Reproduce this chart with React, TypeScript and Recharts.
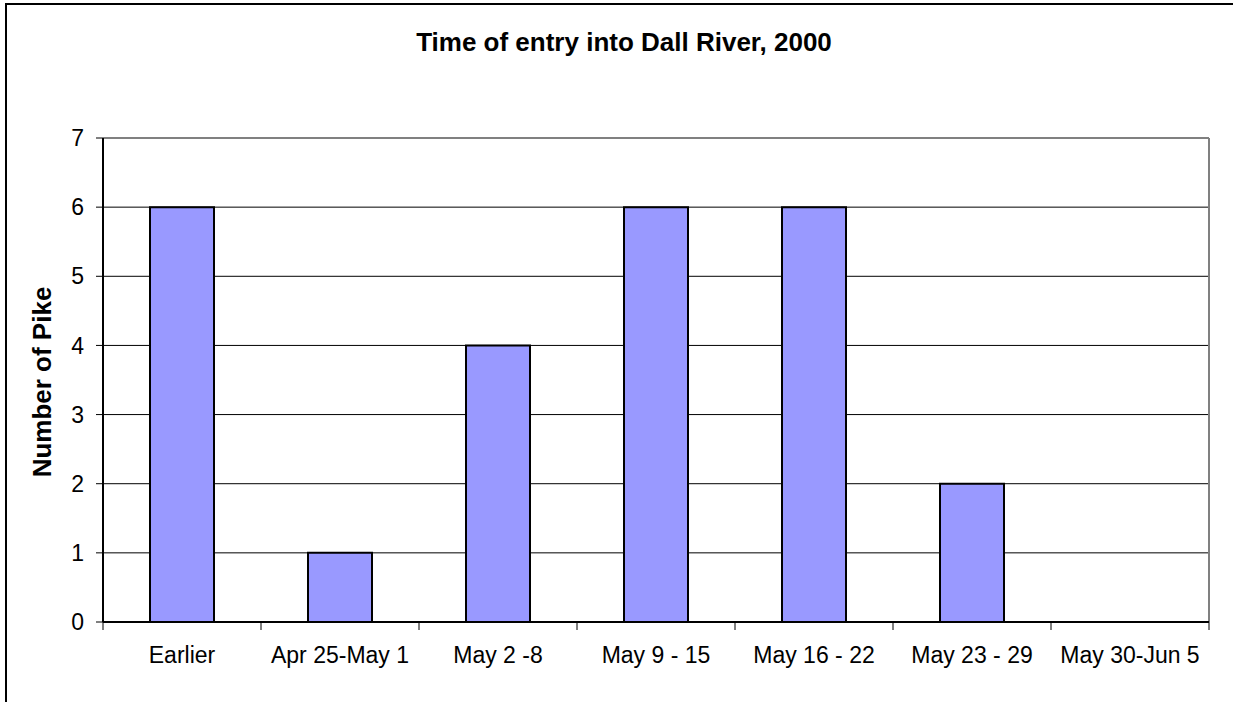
import { BarChart, Bar, XAxis, YAxis, CartesianGrid } from 'recharts';

const categories = [
  'Earlier',
  'Apr 25-May 1',
  'May 2 -8',
  'May 9 - 15',
  'May 16 - 22',
  'May 23 - 29',
  'May 30-Jun 5',
];
const pikeCounts = [6, 1, 4, 6, 6, 2, 0];
const yTicks = [0, 1, 2, 3, 4, 5, 6, 7];

const data = categories.map((week, i) => ({ week, pike: pikeCounts[i] }));

const font = '"Liberation Sans", Arial, sans-serif';
const LABEL_GAP = 25;

// category label plus Excel-style tick marks between categories
function WeekTick(props: any) {
  const { x, y, payload, width, visibleTicksCount, index } = props;
  const band = width / visibleTicksCount;
  const axisY = y - LABEL_GAP;
  const left = x - band / 2;
  const right = x + band / 2;
  return (
    <g>
      <line x1={left} x2={left} y1={axisY} y2={axisY + 8} stroke="#000" strokeWidth={1} />
      {index === visibleTicksCount - 1 && (
        <line x1={right} x2={right} y1={axisY} y2={axisY + 8} stroke="#000" strokeWidth={1} />
      )}
      <text x={x} y={y} dy="0.71em" textAnchor="middle" fontSize={23} fontFamily={font} fill="#000">
        {payload.value}
      </text>
    </g>
  );
}

export default function App() {
  return (
    <div style={{ position: 'fixed', left: 0, top: 0, width: 1233, height: 702, background: '#fff', fontFamily: font }}>
      {/* outer frame, clipped on the right and bottom */}
      <div
        style={{
          position: 'absolute',
          left: 5,
          top: 3,
          width: 1300,
          height: 800,
          border: '2px solid #000',
        }}
      />

      {/* Title */}
      <div
        style={{
          position: 'absolute',
          left: 0,
          width: 1248,
          top: 28,
          textAlign: 'center',
          fontWeight: 'bold',
          fontSize: 26,
          lineHeight: '28px',
          color: '#000',
        }}
      >
        Time of entry into Dall River, 2000
      </div>

      {/* Y axis label */}
      <div
        style={{
          position: 'absolute',
          left: 42,
          top: 382,
          transform: 'translate(-50%, -50%) rotate(-90deg)',
          whiteSpace: 'nowrap',
          fontWeight: 'bold',
          fontSize: 26,
          lineHeight: '28px',
          color: '#000',
        }}
      >
        Number of Pike
      </div>

      <div style={{ position: 'absolute', left: 0, top: 0 }}>
        <BarChart
          width={1233}
          height={702}
          data={data}
          margin={{ top: 138, right: 24, bottom: 20, left: 43 }}
        >
          <CartesianGrid vertical={false} stroke="#000" strokeWidth={1} />
          <CartesianGrid
            stroke="#808080"
            strokeWidth={2}
            horizontalCoordinatesGenerator={({ offset }: any) => [offset.top]}
            verticalCoordinatesGenerator={({ offset }: any) => [offset.left + offset.width]}
          />
          <XAxis
            dataKey="week"
            height={60}
            interval={0}
            axisLine={{ stroke: '#000', strokeWidth: 2 }}
            tickLine={false}
            tickSize={0}
            tickMargin={LABEL_GAP}
            tick={<WeekTick />}
          />
          <YAxis
            domain={[0, 7]}
            ticks={yTicks}
            interval={0}
            width={60}
            axisLine={{ stroke: '#000', strokeWidth: 2 }}
            tickLine={{ stroke: '#000', strokeWidth: 1 }}
            tickSize={7}
            tickMargin={12}
            tick={{ fill: '#000', fontSize: 23, fontFamily: font }}
          />
          <Bar
            dataKey="pike"
            barSize={64}
            fill="#9999FF"
            stroke="#000"
            strokeWidth={2}
            isAnimationActive={false}
          />
        </BarChart>
      </div>
    </div>
  );
}
